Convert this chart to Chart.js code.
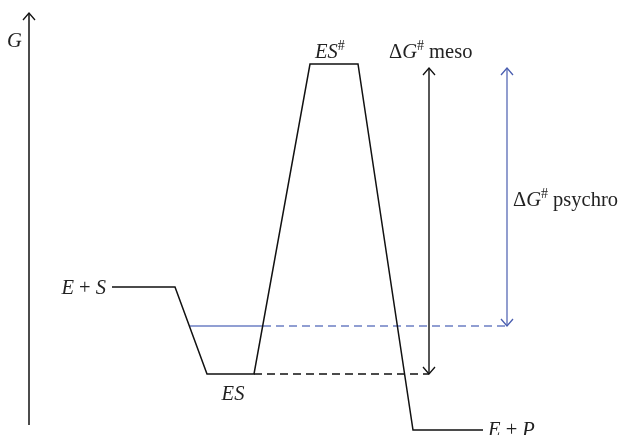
<!DOCTYPE html>
<html>
<head>
<meta charset="utf-8">
<script src="https://cdn.jsdelivr.net/npm/chart.js@4.4.1/dist/chart.umd.min.js"></script>
<style>
  body { margin: 0; background: #fff; }
  #wrap { width: 621px; height: 435px; }
</style>
</head>
<body>
<div id="wrap"><canvas id="energyChart" width="621" height="435"></canvas></div>
<script>
// reaction coordinate (x) and free energy G (y), same units as the plot frame
const pathX = [112, 175, 207, 254, 310, 358, 413, 483];
const pathY = [148, 148, 61, 61, 371, 371, 5, 5];

// psychrophilic ES level (solid part between the two slopes, then dashed)
const psychroSolidX = [190, 263];
const psychroDashX = [263, 507];
const psychroLevel = 109;

// mesophilic ES level dashed extension
const mesoDashX = [254, 429];
const mesoLevel = 61;

// barrier top
const barrierTop = 367;

// G axis
const axisX = 29;
const axisY = [10, 422];

const BLACK = '#111111';
const BLUE = '#4a5eb0';
const BLUE_LIGHT = '#6c7fc4';

function pts(xs, ys) {
    return xs.map((x, i) => ({ x: x, y: ys[i] }));
}

const datasets = [
    { data: pts([axisX, axisX], axisY), borderColor: BLACK, borderWidth: 1.5 },
    { data: pts(pathX, pathY), borderColor: BLACK, borderWidth: 1.5 },
    { data: pts(psychroSolidX, [psychroLevel, psychroLevel]), borderColor: BLUE_LIGHT, borderWidth: 1.4 },
    { data: pts(psychroDashX, [psychroLevel, psychroLevel]), borderColor: BLUE_LIGHT, borderWidth: 1.4, borderDash: [8, 5] },
    { data: pts(mesoDashX, [mesoLevel, mesoLevel]), borderColor: BLACK, borderWidth: 1.4, borderDash: [8, 5] },
    { data: pts([mesoDashX[1], mesoDashX[1]], [barrierTop, mesoLevel]), borderColor: BLACK, borderWidth: 1.4 },
    { data: pts([psychroDashX[1], psychroDashX[1]], [barrierTop, psychroLevel]), borderColor: BLUE, borderWidth: 1.2 }
].map(d => Object.assign({ showLine: true, pointRadius: 0, fill: false, tension: 0 }, d));

// arrowheads: [x, y, direction(+1 up / -1 down), colour]
const arrowHeads = [
    [axisX, axisY[1], 1, BLACK],
    [mesoDashX[1], barrierTop, 1, BLACK],
    [mesoDashX[1], mesoLevel, -1, BLACK],
    [psychroDashX[1], barrierTop, 1, BLUE],
    [psychroDashX[1], psychroLevel, -1, BLUE]
];

const SERIF = '"Liberation Serif", "DejaVu Serif", serif';

function drawRuns(ctx, x, y, runs, align) {
    const size = 20.5;
    const fonts = runs.map(r => (r.italic ? 'italic ' : '') + (r.sup ? 14 : size) + 'px ' + SERIF);
    let total = 0;
    const widths = runs.map((r, i) => { ctx.font = fonts[i]; const w = ctx.measureText(r.t).width; total += w; return w; });
    let cx = align === 'right' ? x - total : align === 'center' ? x - total / 2 : x;
    runs.forEach((r, i) => {
        ctx.font = fonts[i];
        ctx.fillText(r.t, cx, r.sup ? y - 8 : y);
        cx += widths[i];
    });
}

const annotationPlugin = {
    id: 'annotations',
    afterDatasetsDraw(chart) {
        const ctx = chart.ctx;
        const xs = chart.scales.x, ys = chart.scales.y;
        ctx.save();
        ctx.lineWidth = 1.3;
        arrowHeads.forEach(([x, y, dir, col]) => {
            const px = xs.getPixelForValue(x), py = ys.getPixelForValue(y);
            ctx.strokeStyle = col;
            ctx.beginPath();
            ctx.moveTo(px - 6, py + dir * 7);
            ctx.lineTo(px, py);
            ctx.lineTo(px + 6, py + dir * 7);
            ctx.stroke();
        });

        ctx.fillStyle = '#222';
        ctx.textBaseline = 'alphabetic';
        drawRuns(ctx, 7, 47, [{ t: 'G', italic: true }], 'left');
        drawRuns(ctx, 106, 294, [{ t: 'E', italic: true }, { t: ' + ' }, { t: 'S', italic: true }], 'right');
        drawRuns(ctx, 233, 400, [{ t: 'ES', italic: true }], 'center');
        drawRuns(ctx, 315, 58, [{ t: 'ES', italic: true }, { t: '#', sup: true }], 'left');
        drawRuns(ctx, 389, 58, [{ t: 'Δ' }, { t: 'G', italic: true }, { t: '#', sup: true }, { t: ' meso' }], 'left');
        drawRuns(ctx, 513, 206, [{ t: 'Δ' }, { t: 'G', italic: true }, { t: '#', sup: true }, { t: ' psychro' }], 'left');
        drawRuns(ctx, 488, 436, [{ t: 'E', italic: true }, { t: ' + ' }, { t: 'P', italic: true }], 'left');
        ctx.restore();
    }
};

new Chart(document.getElementById('energyChart'), {
    type: 'scatter',
    data: { datasets: datasets },
    options: {
        responsive: false,
        animation: false,
        layout: { padding: 0 },
        plugins: { legend: { display: false }, tooltip: { enabled: false } },
        scales: {
            x: { type: 'linear', min: 0, max: 621, display: false },
            y: { type: 'linear', min: 0, max: 435, display: false }
        }
    },
    plugins: [annotationPlugin]
});
</script>
</body>
</html>
